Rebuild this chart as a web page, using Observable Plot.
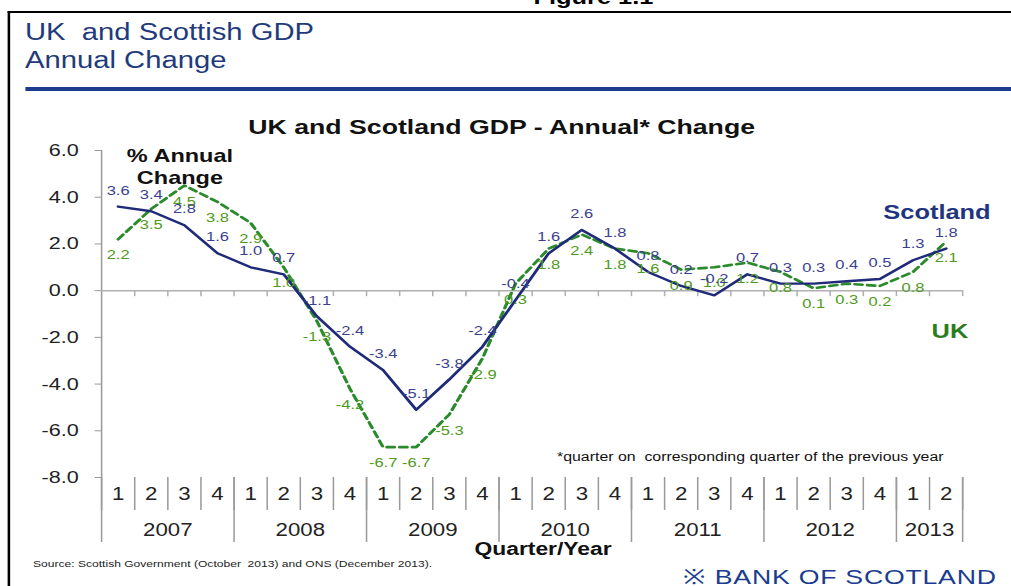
<!DOCTYPE html>
<html>
<head>
<meta charset="utf-8">
<script src="https://cdn.jsdelivr.net/npm/d3@7"></script>
<script src="https://cdn.jsdelivr.net/npm/@observablehq/plot@0.6"></script>
<style>
html,body{margin:0;padding:0;background:#fff;overflow:hidden;width:1011px;height:586px;}
body{font-family:"Liberation Sans",Arial,sans-serif;}
#wrap{position:absolute;left:0;top:0;width:796px;height:586px;transform:scaleX(1.27);transform-origin:0 0;}
#chart{position:absolute;left:0;top:0;}
.t{position:absolute;white-space:nowrap;line-height:1;}
</style>
</head>
<body>
<div id="wrap">
  <div id="chart"></div>
  <div style="position:absolute;left:6px;top:11px;width:800px;height:580px;border-left:2px solid #000;border-top:2px solid #000;"></div>
  <div class="t" style="left:420px;top:-13px;font-size:20px;font-weight:bold;color:#000;">Figure 1.1</div>
  <div class="t" style="left:19.7px;top:20.5px;font-size:23px;color:#1f3b7b;">UK&nbsp; and Scottish GDP</div>
  <div class="t" style="left:19.7px;top:48.5px;font-size:23px;color:#1f3b7b;">Annual Change</div>
  <div style="position:absolute;left:19.7px;top:87px;width:790px;height:4px;background:#1c3d8f;"></div>
  <div class="t" style="left:395px;top:116px;transform:translateX(-50%);font-size:21px;font-weight:bold;color:#111;">UK and Scotland GDP - Annual* Change</div>
  <div class="t" style="left:141.7px;top:145px;transform:translateX(-50%);font-size:18.5px;font-weight:bold;color:#111;text-align:center;line-height:22px;">% Annual<br>Change</div>
  <div class="t" style="left:737.8px;top:202px;transform:translateX(-50%);font-size:20px;font-weight:bold;color:#1f3580;">Scotland</div>
  <div class="t" style="left:748px;top:321px;transform:translateX(-50%);font-size:20px;font-weight:bold;color:#2a7d1a;">UK</div>
  <div class="t" style="left:438.6px;top:450.5px;font-size:12.5px;color:#111;">*quarter on&nbsp; corresponding quarter of the previous year</div>
  <div class="t" style="left:427.6px;top:540px;transform:translateX(-50%);font-size:18px;font-weight:bold;color:#111;">Quarter/Year</div>
  <div class="t" style="left:26px;top:559px;font-size:9.5px;color:#222;">Source: Scottish Government (October&nbsp; 2013) and ONS (December 2013).</div>
  <div class="t" style="left:537.8px;top:566px;font-size:21px;color:#1b3c8e;letter-spacing:0.6px;">&#x203B;&nbsp;BANK OF SCOTLAND</div>
</div>
<script>
// ---- data ----
const quarterLabels = ["1","2","3","4","1","2","3","4","1","2","3","4","1","2","3","4","1","2","3","4","1","2","3","4","1","2"];
const years = ["2007","2008","2009","2010","2011","2012","2013"];
const quartersPerYear = [4,4,4,4,4,4,2];
const scotland = [3.6,3.4,2.8,1.6,1.0,0.7,-1.1,-2.4,-3.4,-5.1,-3.8,-2.4,-0.4,1.6,2.6,1.8,0.8,0.2,-0.2,0.7,0.3,0.3,0.4,0.5,1.3,1.8];
const uk = [2.2,3.5,4.5,3.8,2.9,1.0,-1.3,-4.2,-6.7,-6.7,-5.3,-2.9,0.3,1.8,2.4,1.8,1.6,0.9,1.0,1.2,0.8,0.1,0.3,0.2,0.8,2.1];
const yTicks = [-8,-6,-4,-2,0,2,4,6];

// ---- build tables ----
const rows = quarterLabels.map((q, i) => ({i, x: i + 0.5, q, scot: scotland[i], uk: uk[i]}));
let start = 0;
const yearRows = years.map((y, k) => {
  const r = {year: y, start, mid: start + quartersPerYear[k] / 2};
  start += quartersPerYear[k];
  return r;
});
const yearBounds = yearRows.map(d => d.start).concat([start]);
const quarterBounds = d3.range(0, rows.length + 1);

const chart = Plot.plot({
  width: 796,
  height: 586,
  marginTop: 150,
  marginBottom: 109,
  marginLeft: 79.5,
  marginRight: 38.5,
  x: {type: "linear", domain: [0, rows.length]},
  y: {domain: [-8, 6]},
  style: {fontFamily: "'Liberation Sans', Arial, sans-serif", background: "transparent", overflow: "visible", color: "#222"},
  marks: [
    Plot.axisY({ticks: yTicks, tickFormat: d => d.toFixed(1), tickSize: 5, tickPadding: 13, fontSize: 17, stroke: "#999", fill: "#222", label: null}),
    Plot.ruleX([0], {stroke: "#9a9a9a", strokeWidth: 1.2}),
    Plot.ruleY([0], {stroke: "#b0b0b0", strokeWidth: 1.5}),
    Plot.ruleX(quarterBounds.slice(1), {y1: 0, y2: 0, insetBottom: -6, stroke: "#b0b0b0", strokeWidth: 1.2}),
    Plot.axisX({ticks: quarterBounds, tickSize: 33, tickFormat: () => "", stroke: "#9a9a9a", strokeWidth: 1.2, label: null}),
    Plot.axisX({ticks: yearBounds, tickSize: 65, tickFormat: () => "", stroke: "#9a9a9a", strokeWidth: 1.2, label: null}),
    Plot.text(rows, {x: "x", text: "q", frameAnchor: "bottom", dy: 22, fontSize: 17.5, fill: "#222"}),
    Plot.text(yearRows, {x: "mid", text: "year", frameAnchor: "bottom", dy: 58, fontSize: 17.5, fill: "#222"}),
    Plot.line(rows, {x: "x", y: "uk", stroke: "#2b8a2b", strokeWidth: 2.6, strokeDasharray: "6,4"}),
    Plot.line(rows, {x: "x", y: "scot", stroke: "#1f2a78", strokeWidth: 2.4}),
    Plot.text(rows, {x: "x", y: "uk", text: d => d.uk.toFixed(1), dy: 16, fontSize: 13, fill: "#4f9a20"}),
    Plot.text(rows, {x: "x", y: "scot", text: d => d.scot.toFixed(1), dy: -16, fontSize: 13, fill: "#3b3f8f"})
  ]
});
document.getElementById("chart").appendChild(chart);
</script>
</body>
</html>
